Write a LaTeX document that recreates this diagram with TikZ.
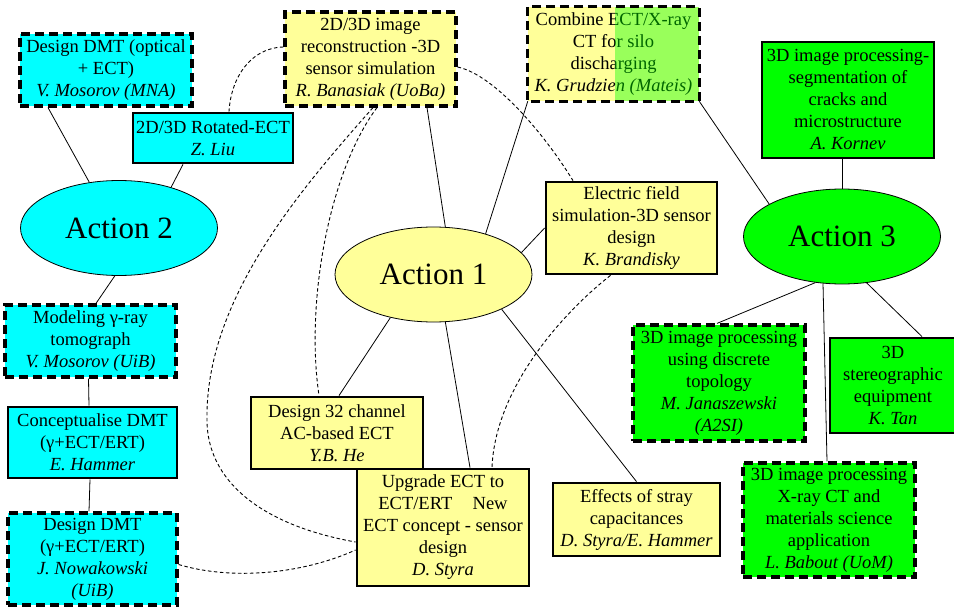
\documentclass[tikz,border=0pt]{standalone}
\usepackage{fontspec}
\setmainfont{Liberation Serif}
\usetikzlibrary{shapes.geometric}
\definecolor{cy}{HTML}{00FFFF}
\definecolor{yl}{HTML}{FFFF99}
\definecolor{gr}{HTML}{00FF00}
\begin{document}
\begin{tikzpicture}[x=1pt,y=-1pt,
  every node/.style={inner sep=0pt, align=center, font=\fontsize{18.5}{22}\selectfont},
  sline/.style={draw=black, line width=2.8pt},
  dline/.style={draw=black, line width=3.2pt, dash pattern=on 9pt off 5pt},
  sbox/.style={rectangle, sline},
  dbox/.style={rectangle, dline},
  act/.style={ellipse, draw=black, line width=0.8pt, minimum width=197pt, minimum height=95pt, font=\fontsize{31}{36}\selectfont},
  link/.style={draw=black, line width=0.8pt},
  dlink/.style={draw=black, line width=0.9pt, dash pattern=on 3.5pt off 2.5pt},
  sz/.style 2 args={minimum width=#1pt, minimum height=#2pt},
]
\useasboundingbox (0,0) rectangle (954,607);

% Action 2 group
\node[dbox, fill=cy, sz={172}{72}] (dmtopt) at (106,70) {Design DMT (optical\\+ ECT)\\\textit{V. Mosorov (MNA)}};
\node[sbox, fill=cy, sz={160}{50}] (rot) at (213,138) {2D/3D Rotated-ECT\\\textit{Z. Liu}};
\node[act, fill=cy] (a2) at (119,228) {Action 2};
\node[dbox, fill=cy, sz={171}{72}] (gam) at (90.5,341) {Modeling γ-ray\\tomograph\\\textit{V. Mosorov (UiB)}};
\node[sbox, fill=cy, sz={169}{71}] (con) at (92.5,442.5) {Conceptualise DMT\\(γ+ECT/ERT)\\\textit{E. Hammer}};
\node[dbox, fill=cy, sz={169}{92}] (dmtg) at (92.5,559) {Design DMT\\(γ+ECT/ERT)\\\textit{J. Nowakowski}\\\textit{(UiB)}};

% Action 1 group
\node[dbox, fill=yl, sz={171}{94}] (rec) at (370.5,59) {2D/3D image\\reconstruction -3D\\sensor simulation\\\textit{R. Banasiak (UoBa)}};
\node[rectangle, fill=yl, sz={171}{94}] (comb) at (613.5,54) {Combine ECT/X-ray\\CT for silo\\discharging\\\textit{K. Grudzien (Mateis)}};
\fill[gr, opacity=0.4] ([xshift=1.5pt]comb.north) rectangle (comb.south east);
\draw[dline] (comb.north west) rectangle (comb.south east);
\node[sbox, fill=yl, sz={171}{92}] (ef) at (631.5,228) {Electric field\\simulation-3D sensor\\design\\\textit{K. Brandisky}};
\node[act, fill=yl] (a1) at (433.5,274.5) {Action 1};
\node[sbox, fill=yl, sz={172}{72}] (ch32) at (337,433) {Design 32 channel\\AC-based ECT\\\textit{Y.B. He}};
\node[sbox, fill=yl, sz={172}{117}] (upg) at (443,527.5) {Upgrade ECT to\\ECT/ERT\hspace{1.1em}New\\ECT concept - sensor\\design\\\textit{D. Styra}};
\node[sbox, fill=yl, sz={167}{73}] (stray) at (636.5,519.5) {Effects of stray\\capacitances\\\textit{D. Styra/E. Hammer}};

% Action 3 group
\node[sbox, fill=gr, sz={172}{116}] (seg) at (848,100) {3D image processing-\\segmentation of\\cracks and\\microstructure\\\textit{A. Kornev}};
\node[act, fill=gr] (a3) at (842,236.5) {Action 3};
\node[dbox, fill=gr, sz={172}{116}] (disc) at (719,383) {3D image processing\\using discrete\\topology\\\textit{M. Janaszewski}\\\textit{(A2SI)}};
\node[sbox, fill=gr, sz={126}{95}] (ster) at (893,385.5) {3D\\stereographic\\equipment\\\textit{K. Tan}};
\node[dbox, fill=gr, sz={172}{114}] (xr) at (829,520) {3D image processing\\X-ray CT and\\materials science\\application\\\textit{L. Babout (UoM)}};

% solid connectors
\draw[link] ([xshift=-58pt]dmtopt.south) -- (a2.123);
\draw[link] ([xshift=-30pt]rot.south) -- (a2.38);
\draw[link] (a2.-95) -- ([xshift=5.5pt]gam.north);
\draw[link] ([xshift=-2pt]gam.south) -- ([xshift=-3.5pt]con.north);
\draw[link] ([xshift=-2.5pt]con.south) -- ([xshift=-3.5pt]dmtg.north);
\draw[link] ([xshift=56.5pt]rec.south) -- (a1.76);
\draw[link] (comb.south west) -- (a1.38);
\draw[link] (ef.west) -- (a1.14);
\draw[link] (a1.-135) -- ([xshift=2pt]ch32.north);
\draw[link] (a1.-76) -- ([xshift=27pt]upg.north);
\draw[link] (a1.-27) -- (stray.north);
\draw[link] (comb.south east) -- (a3.156);
\draw[link] ([xshift=-6pt]seg.south) -- (a3.north);
\draw[link] (a3.-120) -- ([xshift=-2pt]disc.north);
\draw[link] (a3.-112) -- ([xshift=-2pt]xr.north);
\draw[link] (a3.-62) -- ([xshift=29pt]ster.north);

% dashed connectors
\draw[dlink] ([shift={(0,-12)}]rec.west) .. controls (250,48) and (231,78) .. ([xshift=16pt]rot.north);
\draw[dlink] ([shift={(0,8)}]rec.east) .. controls (495,75) and (545,135) .. ([xshift=-58.5pt]ef.north);
\coordinate (bend) at (207,420);
\draw[dlink] ([xshift=2.5pt]rec.south) .. controls (300,190) and (205,300) .. (bend) .. controls (207,480) and (260,525) .. ([shift={(0,14.5)}]upg.west);
\draw[dlink] ([xshift=6.5pt]rec.south) .. controls (330,170) and (305,300) .. ([xshift=-18pt]ch32.north);
\draw[dlink] ([shift={(0,5.5)}]dmtg.east) .. controls (230,580) and (300,575) .. ([shift={(0,22.5)}]upg.west);
\draw[dlink] ([xshift=-21pt]ef.south) .. controls (560,315) and (495,390) .. ([xshift=49pt]upg.north);
\end{tikzpicture}
\end{document}
